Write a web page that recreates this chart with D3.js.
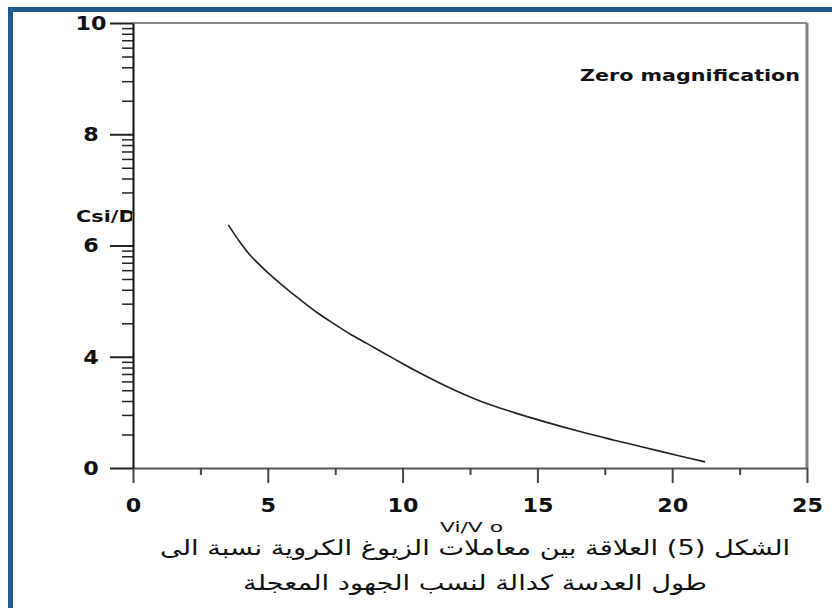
<!DOCTYPE html>
<html>
<head>
<meta charset="utf-8">
<script src="https://cdn.jsdelivr.net/npm/d3@7"></script>
<style>
  body { margin: 0; background: #fff; }
  text { font-family: "DejaVu Sans", Verdana, sans-serif; fill: #111; }
</style>
</head>
<body>
<div id="chart"></div>
<script>
// curve
const ratioValues = [3.535, 3.895, 4.34, 4.96, 5.575, 6.19, 6.81, 7.43, 8.05, 8.67, 9.655, 10.4, 11.64, 12.87, 14.11, 15.35, 16.58, 17.81, 19.05, 20.28, 21.22];
const csiValues = [6.37, 6.11, 5.83, 5.53, 5.27, 5.03, 4.8, 4.6, 4.41, 4.24, 3.94, 3.54, 2.93, 2.41, 2.0, 1.64, 1.31, 1.01, 0.72, 0.43, 0.22];

const xTicks = [0, 5, 10, 15, 20, 25];
const xMinorTicks = [2.5, 7.5, 12.5, 17.5, 22.5];
const yTicks = [0, 4, 6, 8, 10];

const captionLines = [
    "الشكل (5) العلاقة بين معاملات الزيوغ الكروية نسبة الى",
    "طول العدسة  كدالة لنسب الجهود المعجلة"
];

const width = 832;
const height = 608;
const margin = { top: 23, right: 25, bottom: 140, left: 133 };
const innerWidth = width - margin.left - margin.right;
const innerHeight = height - margin.top - margin.bottom;

const svg = d3.select("#chart")
    .append("svg")
    .attr("width", width)
    .attr("height", height);

// blue page frame (runs off the right and bottom edge)
svg.append("rect")
    .attr("x", 10.5).attr("y", 9.5)
    .attr("width", width).attr("height", height)
    .attr("fill", "none")
    .attr("stroke", "#215a8c")
    .attr("stroke-width", 5);

const graph = svg.append("g")
    .attr("transform", "translate(" + margin.left + "," + margin.top + ")");

const x = d3.scaleLinear().domain([0, 25]).range([0, innerWidth]);
// y labels are evenly spaced, so map them piece by piece
const y = d3.scaleLinear()
    .domain(yTicks)
    .range(yTicks.map((d, i) => innerHeight - i * innerHeight / (yTicks.length - 1)));

// minor y ticks, log spaced inside each interval
const yMinorTicks = [];
for (let i = 0; i < yTicks.length - 1; i++) {
    const a = yTicks[i], b = yTicks[i + 1];
    for (let k = 2; k <= 9; k++) yMinorTicks.push(a + (b - a) * Math.log10(k));
}

// frame: top and right
graph.append("line")
    .attr("x1", 0).attr("x2", innerWidth)
    .attr("y1", 0).attr("y2", 0)
    .attr("stroke", "#888").attr("stroke-width", 2);
graph.append("line")
    .attr("x1", innerWidth).attr("x2", innerWidth)
    .attr("y1", 0).attr("y2", innerHeight)
    .attr("stroke", "#808080").attr("stroke-width", 3);

// tick labels are a bit wide in the scan
function styleTickText(sel) {
    sel.style("font-size", "20px")
        .style("font-weight", "bold")
        .attr("fill", "#111")
        .attr("lengthAdjust", "spacingAndGlyphs")
        .attr("textLength", function () { return this.textContent.length * 15.5; });
}

// X axis
const xAxis = graph.append("g")
    .attr("transform", "translate(0," + innerHeight + ")")
    .call(d3.axisBottom(x).tickValues(xTicks).tickSize(15).tickSizeOuter(0).tickPadding(15));
xAxis.select(".domain").attr("stroke", "#555").attr("stroke-width", 2);
xAxis.selectAll(".tick line").attr("stroke", "#444").attr("stroke-width", 2);
xAxis.selectAll("text").call(styleTickText);

graph.append("g")
    .attr("transform", "translate(0," + innerHeight + ")")
    .call(d3.axisBottom(x).tickValues(xMinorTicks).tickSize(7).tickFormat(""))
    .call(g => g.select(".domain").remove())
    .selectAll(".tick line").attr("stroke", "#444").attr("stroke-width", 2);

// Y axis
const yAxis = graph.append("g")
    .call(d3.axisLeft(y).tickValues(yTicks).tickSize(23).tickSizeOuter(0));
yAxis.select(".domain").attr("stroke", "#111").attr("stroke-width", 2);
yAxis.selectAll(".tick line").attr("stroke", "#222").attr("stroke-width", 2);
yAxis.selectAll("text")
    .attr("x", -42)
    .attr("text-anchor", "middle")
    .call(styleTickText);

graph.append("g")
    .call(d3.axisLeft(y).tickValues(yMinorTicks).tickSize(11).tickFormat(""))
    .call(g => g.select(".domain").remove())
    .selectAll(".tick line").attr("stroke", "#222").attr("stroke-width", 1.5);

// the curve
const points = ratioValues.map((d, i) => [d, csiValues[i]]);
graph.append("path")
    .datum(points)
    .attr("fill", "none")
    .attr("stroke", "#222")
    .attr("stroke-width", 1.6)
    .attr("d", d3.line()
        .x(d => x(d[0]))
        .y(d => y(d[1]))
        .curve(d3.curveCatmullRom));

// y label, cut off by the axis as in the original
svg.append("clipPath").attr("id", "ylab-clip")
    .append("rect").attr("x", 0).attr("y", 0).attr("width", margin.left - 1).attr("height", height);
svg.append("text")
    .attr("clip-path", "url(#ylab-clip)")
    .attr("x", 76).attr("y", 222)
    .attr("textLength", 74).attr("lengthAdjust", "spacingAndGlyphs")
    .style("font-size", "15px")
    .style("font-weight", "bold")
    .text("Csi/Do");

// note in the corner
svg.append("text")
    .attr("x", 580).attr("y", 81)
    .attr("textLength", 220).attr("lengthAdjust", "spacingAndGlyphs")
    .style("font-size", "16px")
    .style("font-weight", "bold")
    .text("Zero magnification");

// x label
svg.append("text")
    .attr("x", 440).attr("y", 532)
    .attr("textLength", 63).attr("lengthAdjust", "spacingAndGlyphs")
    .style("font-size", "14px")
    .text("Vi/V o");

// caption, stretched sideways like the scan
const capY = [555, 590];
svg.selectAll(".caption")
    .data(captionLines)
    .enter()
    .append("text")
    .attr("class", "caption")
    .attr("transform", (d, i) => "translate(475," + capY[i] + ") scale(1.3,1)")
    .attr("text-anchor", "middle")
    .attr("direction", "rtl")
    .style("font-size", "21px")
    .text(d => d);
</script>
</body>
</html>
